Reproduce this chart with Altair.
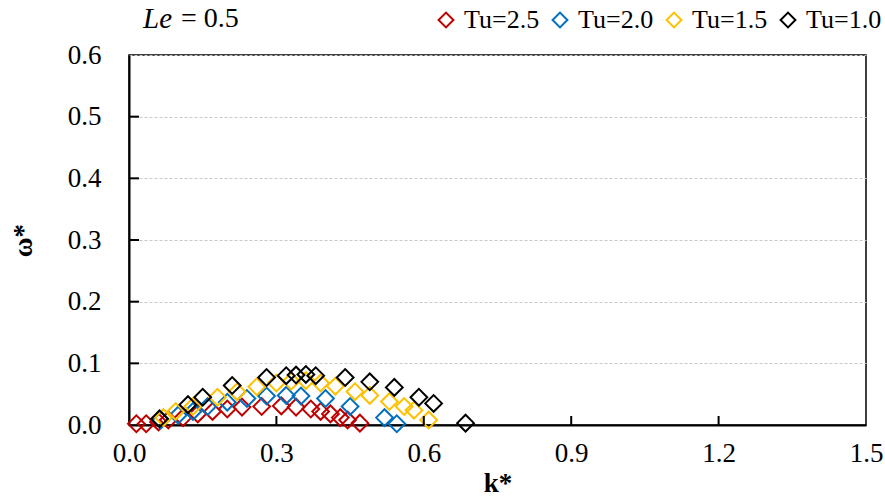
import altair as alt
import pandas as pd

# Series names and marker colours
series = ["Tu=2.5", "Tu=2.0", "Tu=1.5", "Tu=1.0"]
colors = ["#C00000", "#0070C0", "#FFC000", "#000000"]

# Dimensionless wavenumber k* and growth rate omega* for each turbulence level
k_tu25 = [0.015, 0.035, 0.06, 0.08, 0.11, 0.14, 0.17, 0.20, 0.23, 0.27, 0.31,
          0.34, 0.37, 0.39, 0.41, 0.43, 0.445, 0.47]
w_tu25 = [0.002, 0.002, 0.005, 0.008, 0.012, 0.018, 0.022, 0.026, 0.029, 0.030,
          0.031, 0.029, 0.026, 0.022, 0.018, 0.012, 0.008, 0.003]

k_tu20 = [0.065, 0.10, 0.13, 0.16, 0.20, 0.24, 0.28, 0.32, 0.35, 0.40, 0.45,
          0.52, 0.545]
w_tu20 = [0.008, 0.016, 0.022, 0.030, 0.037, 0.043, 0.047, 0.048, 0.047, 0.043,
          0.030, 0.012, 0.002]

k_tu15 = [0.07, 0.095, 0.13, 0.18, 0.22, 0.26, 0.30, 0.33, 0.36, 0.39, 0.42,
          0.46, 0.49, 0.53, 0.56, 0.58, 0.61]
w_tu15 = [0.012, 0.022, 0.030, 0.045, 0.054, 0.062, 0.068, 0.071, 0.072, 0.068,
          0.063, 0.054, 0.048, 0.038, 0.030, 0.024, 0.008]

k_tu10 = [0.062, 0.12, 0.15, 0.21, 0.28, 0.32, 0.34, 0.36, 0.38, 0.44, 0.49,
          0.54, 0.59, 0.62, 0.685]
w_tu10 = [0.010, 0.033, 0.045, 0.064, 0.077, 0.080, 0.081, 0.082, 0.080, 0.077,
          0.070, 0.061, 0.045, 0.035, 0.003]

x_ticks = [0.0, 0.3, 0.6, 0.9, 1.2, 1.5]
y_ticks = [0.0, 0.1, 0.2, 0.3, 0.4, 0.5, 0.6]
x_inner_ticks = [0.3, 0.6, 0.9, 1.2]
y_inner_ticks = [0.1, 0.2, 0.3, 0.4, 0.5]

rows = []
for name, ks, ws in zip(series, [k_tu25, k_tu20, k_tu15, k_tu10],
                        [w_tu25, w_tu20, w_tu15, w_tu10]):
    for k, w in zip(ks, ws):
        rows.append({"series": name, "k": k, "w": w})
df = pd.DataFrame(rows)

W, H = 737, 370
FONT = "Liberation Serif"
FS = 27

x_scale = alt.Scale(domain=[0, 1.5], nice=False, zero=False)
y_scale = alt.Scale(domain=[0, 0.6], nice=False, zero=False)

x_axis = alt.Axis(values=x_ticks, format=".1f", title="k*", labelFlush=False,
                  grid=False, ticks=False, labelPadding=15, titlePadding=4)
y_axis = alt.Axis(values=y_ticks, format=".1f", title="ω*", labelFlush=False,
                  grid=True, gridDash=[3, 2], gridColor="#C8C8C8",
                  gridWidth=1, ticks=False, labelPadding=28, titlePadding=30)

points = alt.Chart(df).mark_point(
    shape="diamond", filled=False, size=280, strokeWidth=2, opacity=1
).encode(
    x=alt.X("k:Q", scale=x_scale, axis=x_axis),
    y=alt.Y("w:Q", scale=y_scale, axis=y_axis),
    color=alt.Color("series:N", scale=alt.Scale(domain=series, range=colors),
                    legend=alt.Legend(title=None, orient="none",
                                      direction="horizontal", columns=4,
                                      legendX=304, legendY=-48,
                                      symbolType="diamond", symbolSize=220,
                                      symbolStrokeWidth=2,
                                      symbolFillColor="transparent",
                                      labelFont=FONT, labelFontSize=26,
                                      labelColor="black", labelOffset=5,
                                      columnPadding=7)),
)

# Inward tick marks on the bottom and left axes
xt = alt.Chart(pd.DataFrame({"k": x_inner_ticks})).mark_rule(
    color="black", strokeWidth=2
).encode(x=alt.X("k:Q", scale=x_scale, axis=x_axis),
         y=alt.value(H), y2=alt.value(H - 9))

yt = alt.Chart(pd.DataFrame({"w": y_inner_ticks})).mark_rule(
    color="black", strokeWidth=2
).encode(y=alt.Y("w:Q", scale=y_scale, axis=y_axis),
         x=alt.value(0), x2=alt.value(10))

# Panel label "Le = 0.5"
le_part = alt.Chart(pd.DataFrame({"t": ["Le"]})).mark_text(
    font=FONT, fontSize=29, fontStyle="italic", align="left",
    baseline="middle", color="black"
).encode(x=alt.value(14), y=alt.value(-36), text="t:N")

eq_part = alt.Chart(pd.DataFrame({"t": ["= 0.5"]})).mark_text(
    font=FONT, fontSize=28, align="left", baseline="middle", color="black"
).encode(x=alt.value(52), y=alt.value(-36), text="t:N")

chart = alt.layer(points, xt, yt, le_part, eq_part).properties(
    width=W, height=H,
    padding={"left": 129, "top": 55, "right": 19, "bottom": 75},
    autosize=alt.AutoSizeParams(type="none"),
).configure_view(
    stroke="black", strokeWidth=1.5
).configure_axis(
    domainColor="black", domainWidth=2,
    labelFont=FONT, labelFontSize=FS, labelColor="black",
    titleFont=FONT, titleFontSize=FS, titleFontWeight="bold",
    titleColor="black",
)

chart.save("out.html", embed_options={"renderer": "svg", "actions": False})
